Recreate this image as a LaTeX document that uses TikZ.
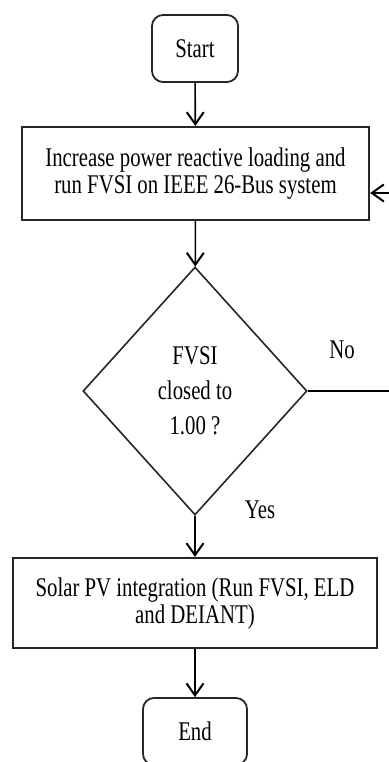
\documentclass[tikz,border=0pt]{standalone}
\usepackage{fontspec}
\setmainfont{Liberation Serif}[FakeStretch=0.77]
\usetikzlibrary{shapes.geometric,positioning,arrows.meta}

\begin{document}
\begin{tikzpicture}[x=1pt,y=-1pt,>={Straight Barb[length=12pt,width=17pt,line width=2pt]},
  every node/.style={font=\fontsize{27}{27}\selectfont},
  term/.style={draw=black!85,line width=1.8pt,rounded corners=11pt,minimum width=86pt,minimum height=67pt,inner sep=0pt},
  proc/.style={draw=black!85,line width=2.2pt,align=center,minimum height=93pt,inner sep=0pt},
  decision/.style={draw=black!85,diamond,line width=1.6pt,minimum width=224pt,minimum height=248pt,inner sep=0pt,align=center,font=\fontsize{27}{35}\selectfont},
  flow/.style={->,line width=1.6pt}]
\useasboundingbox (0,0) rectangle (388,762);
\node (start) at (195,48.5)[term] {Start};
\node (incr) at (195.5,173.5)[proc,minimum width=347pt] {Increase power reactive loading and\\run FVSI on IEEE 26-Bus system};
\node (fvsi) at (195,391)[decision] {FVSI\\closed to\\1.00 ?};
\node (solar) at (195,603)[proc,minimum width=364pt,minimum height=90pt] {Solar PV integration (Run FVSI, ELD\\and DEIANT)};
\node (end) at (195,731.5)[term,minimum width=104pt] {End};
\node (yes) at (260,510) {Yes};
\node (no) at (342,350) {No};
\coordinate (noout) at (390,391);
\coordinate (loopin) at (390,193);
\draw[flow] (start) -- (incr);
\draw[flow] (incr) -- (fvsi);
\draw[flow] (fvsi) -- (solar);
\draw[flow] (solar) -- (end);
\draw[line width=1.6pt] (fvsi.east) -- (noout);
\draw[flow] (loopin) -- (incr.east|-loopin);
\end{tikzpicture}
\end{document}
